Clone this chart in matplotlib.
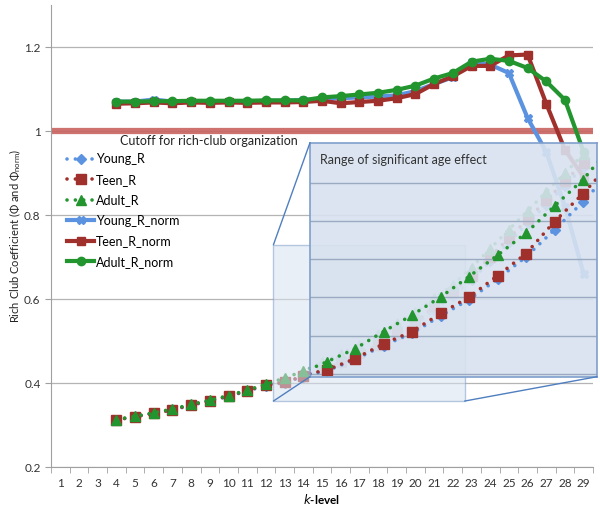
import matplotlib
matplotlib.use("Agg")
import matplotlib.pyplot as plt
from matplotlib.patches import Rectangle, ConnectionPatch

plt.rcParams['font.family'] = ['Lato', 'DejaVu Sans']
plt.rcParams['mathtext.default'] = 'regular'

# k-levels
k_all = list(range(1, 30))
k = list(range(4, 30))

# raw rich-club coefficients
young_r = [0.312, 0.320, 0.328, 0.336, 0.347, 0.357, 0.368, 0.381, 0.394, 0.401, 0.415, 0.432,
           0.447, 0.468, 0.488, 0.513, 0.540, 0.573, 0.607, 0.645, 0.690, 0.735, 0.780, 0.825,
           0.870, 0.915]
teen_r = [0.312, 0.320, 0.328, 0.336, 0.348, 0.358, 0.369, 0.382, 0.395, 0.402, 0.416, 0.434,
          0.449, 0.471, 0.491, 0.517, 0.544, 0.583, 0.617, 0.655, 0.700, 0.745, 0.790, 0.835,
          0.880, 0.925]
adult_r = [0.313, 0.321, 0.329, 0.338, 0.349, 0.359, 0.370, 0.383, 0.397, 0.412, 0.428, 0.449,
           0.469, 0.491, 0.516, 0.542, 0.569, 0.602, 0.634, 0.675, 0.720, 0.765, 0.810, 0.855,
           0.900, 0.945]

# normalised rich-club coefficients
young_norm = [1.070, 1.070, 1.075, 1.070, 1.070, 1.070, 1.070, 1.070, 1.072, 1.072, 1.074, 1.076,
              1.078, 1.080, 1.082, 1.085, 1.095, 1.112, 1.128, 1.165, 1.158, 1.138, 1.031, 0.950,
              0.820, 0.660]
teen_norm = [1.065, 1.066, 1.068, 1.066, 1.068, 1.067, 1.068, 1.067, 1.068, 1.068, 1.069, 1.072,
             1.066, 1.069, 1.072, 1.078, 1.088, 1.112, 1.130, 1.155, 1.155, 1.180, 1.182, 1.065,
             0.955, 0.890]
adult_norm = [1.070, 1.070, 1.071, 1.071, 1.072, 1.072, 1.072, 1.072, 1.073, 1.073, 1.073, 1.080,
              1.083, 1.087, 1.091, 1.098, 1.108, 1.125, 1.138, 1.165, 1.172, 1.167, 1.150, 1.118,
              1.074, 0.950]

y_ticks = [0.2, 0.4, 0.6, 0.8, 1.0, 1.2]
y_labels = ['0.2', '0.4', '0.6', '0.8', '1', '1.2']

# zoom callout: region of the main plot and the limits shown in the enlarged box
zoom_x = (12.40, 22.63)
zoom_y = (0.357, 0.729)
inset_x = (12.42, 22.49)
inset_y = (0.394, 0.679)

BLUE = '#5b93e0'
RED = '#a0302c'
GREEN = '#23952f'
BOX_FACE = '#d8e2ef'
BOX_EDGE = '#7f9fcc'
DOTS = (0, (0.01, 2.3))


def draw_r(ax):
    ax.plot(k, young_r, linestyle=DOTS, color=BLUE, lw=2.6, marker='D', ms=5, mec=BLUE,
            mfc=BLUE, label='Young_R', dash_capstyle='round')
    ax.plot(k, teen_r, linestyle=DOTS, color=RED, lw=2.6, marker='s', ms=7.5, mec=RED,
            mfc=RED, label='Teen_R', dash_capstyle='round')
    ax.plot(k, adult_r, linestyle=DOTS, color=GREEN, lw=2.6, marker='^', ms=7.5, mec=GREEN,
            mfc=GREEN, label='Adult_R', dash_capstyle='round')


fig = plt.figure(figsize=(6, 5.05), dpi=100)
ax = fig.add_axes([51 / 600, 38 / 505, 542 / 600, 462 / 505])

draw_r(ax)
ax.plot(k, young_norm, '-', color=BLUE, lw=3, marker='X', ms=6, label='Young_R_norm')
ax.plot(k, teen_norm, '-', color=RED, lw=3, marker='s', ms=6, label='Teen_R_norm')
ax.plot(k, adult_norm, '-', color=GREEN, lw=3, marker='o', ms=6, label='Adult_R_norm')

# cutoff line
ax.axhline(1.0, color='#c9635f', lw=4.5, alpha=0.9, zorder=1.5)
ax.text(4.2, 0.976, 'Cutoff for rich-club organization', fontsize=9, color='#222222',
        va='center', ha='left')

ax.set_xlim(0.5, 29.5)
ax.set_ylim(0.2, 1.3)
ax.set_xticks(k_all)
ax.set_xticklabels([str(i) for i in k_all], fontsize=8.5, color='#333333')
ax.set_xticks([i + 0.5 for i in range(0, 30)], minor=True)
ax.tick_params(axis='x', which='major', length=0, pad=8)
ax.tick_params(axis='x', which='minor', length=4, color='#a0a0a0')
ax.set_yticks(y_ticks)
ax.set_yticklabels(y_labels, fontsize=8.5, color='#333333')
ax.tick_params(axis='y', length=4, color='#a0a0a0')
ax.yaxis.grid(True, color='#b4b4b4', lw=0.9)
ax.set_axisbelow(True)
for s in ['top', 'right']:
    ax.spines[s].set_visible(False)
for s in ['left', 'bottom']:
    ax.spines[s].set_color('#a0a0a0')

ax.set_ylabel(r'Rich Club Coefficient ($\Phi$ and $\Phi_{norm}$)', fontsize=8, color='#222222',
              labelpad=1)
ax.set_xlabel(r'$\mathbf{\mathit{k}}$-level', fontsize=8.5, fontweight='bold', labelpad=2)

leg = ax.legend(loc='upper left', bbox_to_anchor=(0.02, 0.69), frameon=False, fontsize=9,
                handlelength=2.2, handletextpad=0.1, labelspacing=0.68, borderaxespad=0)

# small (source) box of the callout
ax.add_patch(Rectangle((zoom_x[0], zoom_y[0]), zoom_x[1] - zoom_x[0], zoom_y[1] - zoom_y[0],
                       facecolor=BOX_FACE, edgecolor=BOX_EDGE, lw=1, alpha=0.55, zorder=4))

# enlarged box
ins = fig.add_axes([310 / 600, (505 - 376.7) / 505, 287 / 600, 234 / 505])
ins.patch.set_facecolor(BOX_FACE)
ins.patch.set_alpha(0.9)
draw_r(ins)
ins.set_xlim(*inset_x)
ins.set_ylim(*inset_y)
ins.set_xticks([])
ins.set_yticks([])
for s in ins.spines.values():
    s.set_color(BOX_EDGE)
    s.set_linewidth(1.2)
for f in [0.172, 0.335, 0.498, 0.661, 0.824, 0.99]:
    ins.plot([0, 1], [1 - f, 1 - f], color='#9aaac0', lw=1, transform=ins.transAxes, zorder=0.5)
ins.text(0.035, 0.925, 'Range of significant age effect', transform=ins.transAxes,
         fontsize=9, color='#333333', va='center')

# callout edges
for (xa, ya), (xb, yb) in [((zoom_x[0], zoom_y[1]), (0, 1)),
                           ((zoom_x[0], zoom_y[0]), (0, 0)),
                           ((zoom_x[1], zoom_y[0]), (1, 0))]:
    cp = ConnectionPatch((xa, ya), (xb, yb), coordsA=ax.transData, coordsB=ins.transAxes,
                         color='#4f7fbf', lw=1)
    fig.add_artist(cp)

fig.savefig('out.png', dpi=100)
